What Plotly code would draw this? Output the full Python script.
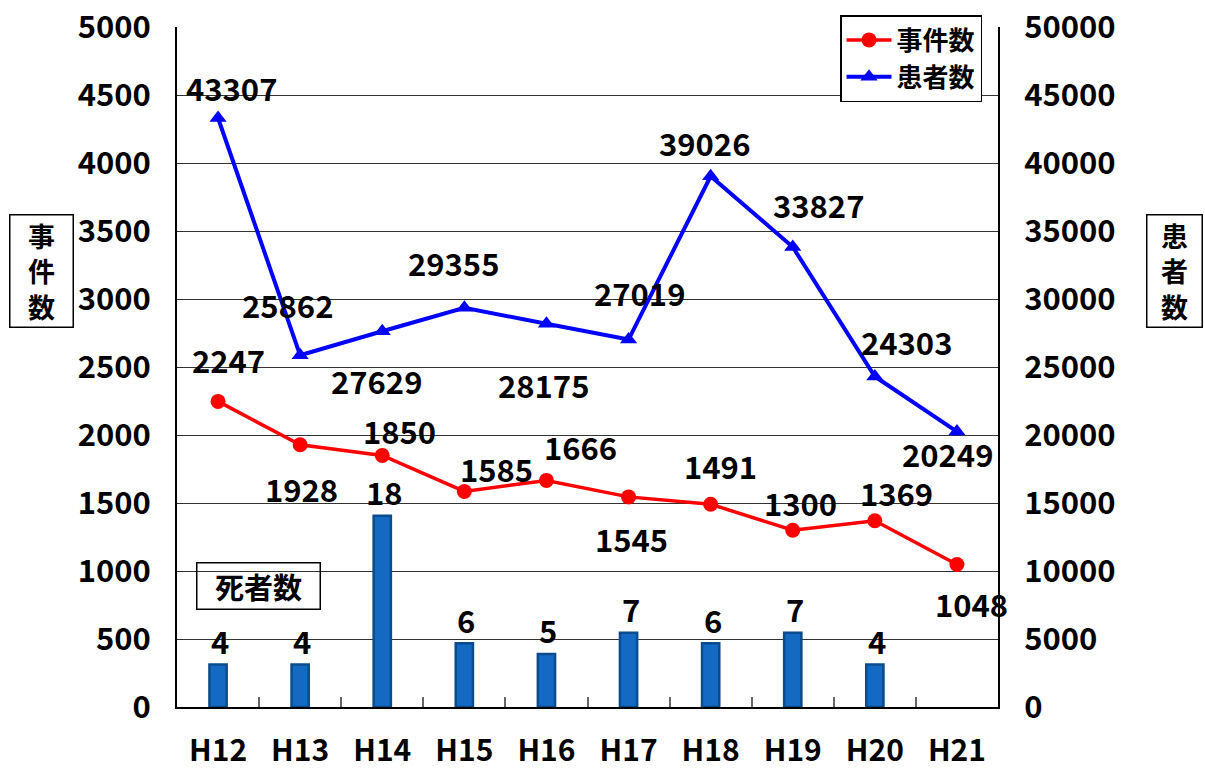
import plotly.graph_objects as go

# ---- data ----
years = ["H12", "H13", "H14", "H15", "H16", "H17", "H18", "H19", "H20", "H21"]
incidents = [2247, 1928, 1850, 1585, 1666, 1545, 1491, 1300, 1369, 1048]
patients = [43307, 25862, 27629, 29355, 28175, 27019, 39026, 33827, 24303, 20249]
death_years = ["H12", "H13", "H14", "H15", "H16", "H17", "H18", "H19", "H20"]
deaths = [4, 4, 18, 6, 5, 7, 6, 7, 4]

# ---- label placement (pixel offsets from each point) ----
inc_off = [(10, 42), (1, -44), (17, 25), (32, 23), (34, 34), (3, -42), (10, 39), (8, 28), (22, 28), (15, -39)]
pat_off = [(13, 31), (-13, 51), (-6, -49), (-11, 45), (-3, -61), (11, 47), (-6, 34), (26, 42), (32, 35), (-9, -22)]

W, H = 1205, 772
L, R, T, B = 177, 207, 27, 65
PW, PH = W - L - R, H - T - B
FONT = "Noto Sans CJK JP"


def px_x(px):
    return (px - L) / PW


def px_y(py):
    return (H - B - py) / PH


fig = go.Figure()

fig.add_trace(go.Bar(
    x=death_years, y=deaths, yaxis="y3", width=0.21,
    marker=dict(color="#1469C3", line=dict(color="#0B4C8C", width=2.5)),
    showlegend=False, hoverinfo="skip",
))
fig.add_trace(go.Scatter(
    x=years, y=incidents, name="事件数", mode="lines+markers",
    line=dict(color="#FF0000", width=3.5),
    marker=dict(symbol="circle", size=15, color="#FF0000"),
))
fig.add_trace(go.Scatter(
    x=years, y=patients, name="患者数", yaxis="y2", mode="lines+markers",
    line=dict(color="#0000FF", width=4),
    marker=dict(symbol="triangle-up", size=15, color="#0000FF"),
))

lab_font = dict(family=FONT, size=31, color="black", weight="bold")
ann = []
for yr, v, (dx, dy) in zip(years, incidents, inc_off):
    ann.append(dict(x=yr, y=v, xref="x", yref="y", text=str(v), showarrow=False,
                    xshift=dx, yshift=dy, font=lab_font))
for yr, v, (dx, dy) in zip(years, patients, pat_off):
    ann.append(dict(x=yr, y=v, xref="x", yref="y2", text=str(v), showarrow=False,
                    xshift=dx, yshift=dy, font=lab_font))
for yr, v in zip(death_years, deaths):
    ann.append(dict(x=yr, y=v, xref="x", yref="y3", text=str(v), showarrow=False,
                    xshift=2, yshift=24, font=lab_font))

# boxed axis captions (vertical text)
title_font = dict(family=FONT, size=27, color="black", weight="bold")
for (x0, x1, label) in [(8, 74, "事件数"), (1145, 1203, "患者数")]:
    ann.append(dict(x=px_x((x0 + x1) / 2), y=px_y(270.5), xref="paper", yref="paper",
                    text="<br>".join(label), showarrow=False, font=title_font,
                    xanchor="center", yanchor="middle", align="center",
                    width=x1 - x0 - 4, height=111, valign="middle",
                    bordercolor="black", borderwidth=1.5, borderpad=0))

ann.append(dict(x=px_x(258), y=px_y(585.5), xref="paper", yref="paper", text="死者数",
                showarrow=False, font=dict(family=FONT, size=29, color="black", weight="bold"),
                xanchor="center", yanchor="middle", width=122, height=45,
                bordercolor="black", borderwidth=1.5, borderpad=0))

tick_font = dict(family=FONT, size=31, color="black", weight="bold")

fig.update_layout(
    width=W, height=H,
    margin=dict(l=L, r=R, t=T, b=B, autoexpand=False),
    paper_bgcolor="white", plot_bgcolor="white",
    xaxis=dict(
        type="category", categoryorder="array", categoryarray=years,
        range=[-0.5, 9.5], showline=True, linecolor="black", linewidth=2,
        tickson="boundaries", ticks="inside", ticklen=10, tickcolor="#666", tickwidth=1.5,
        tickfont=dict(family=FONT, size=30, color="black", weight="bold"),
        ticklabelstandoff=16, showgrid=False, mirror=False,
    ),
    yaxis=dict(
        range=[0, 5000], dtick=500, showline=True, linecolor="black", linewidth=2,
        showgrid=True, gridcolor="#333", gridwidth=1.3, tickfont=tick_font,
        ticks="", ticklabelstandoff=18, zeroline=False, tickformat="d",
    ),
    yaxis2=dict(
        range=[0, 50000], dtick=5000, overlaying="y", side="right",
        showline=True, linecolor="black", linewidth=2, showgrid=False,
        tickfont=tick_font, ticks="", ticklabelstandoff=18, zeroline=False,
        tickformat="d",
    ),
    yaxis3=dict(range=[0, 64], overlaying="y", visible=False),
    legend=dict(
        x=px_x(840), y=px_y(15), xanchor="left", yanchor="top",
        bgcolor="white", bordercolor="black", borderwidth=1.5,
        font=dict(family=FONT, size=26, color="black", weight="bold"),
        tracegroupgap=0, itemwidth=45,
    ),
    annotations=ann,
)

fig.write_html("out.html")
